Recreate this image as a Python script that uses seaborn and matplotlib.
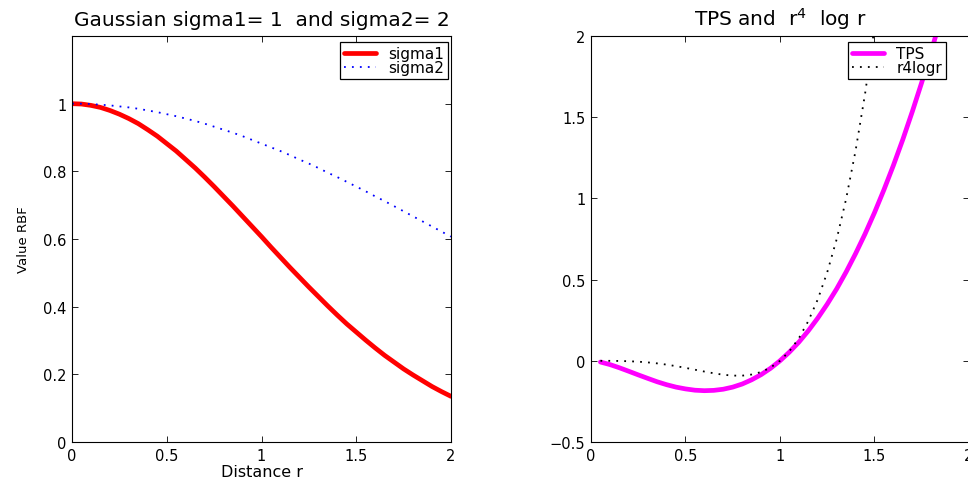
import pandas as pd
import seaborn as sns
import matplotlib
matplotlib.use("Agg")
import matplotlib.pyplot as plt

# values
r_gauss = [0.0, 0.05, 0.1, 0.15, 0.2, 0.25, 0.3, 0.35, 0.4, 0.45, 0.5,
           0.55, 0.6, 0.65, 0.7, 0.75, 0.8, 0.85, 0.9, 0.95, 1.0,
           1.05, 1.1, 1.15, 1.2, 1.25, 1.3, 1.35, 1.4, 1.45, 1.5,
           1.55, 1.6, 1.65, 1.7, 1.75, 1.8, 1.85, 1.9, 1.95, 2.0]
sigma1 = [1.0, 0.999, 0.995, 0.989, 0.980, 0.969, 0.956, 0.941, 0.923, 0.904, 0.882,
          0.860, 0.835, 0.810, 0.783, 0.755, 0.726, 0.697, 0.667, 0.637, 0.607,
          0.576, 0.546, 0.516, 0.487, 0.458, 0.430, 0.402, 0.375, 0.349, 0.325,
          0.301, 0.278, 0.256, 0.236, 0.216, 0.198, 0.181, 0.164, 0.149, 0.135]
sigma2 = [1.0, 1.0, 0.999, 0.997, 0.995, 0.992, 0.989, 0.985, 0.980, 0.975, 0.969,
          0.963, 0.956, 0.949, 0.941, 0.932, 0.923, 0.914, 0.904, 0.893, 0.882,
          0.871, 0.860, 0.848, 0.835, 0.823, 0.810, 0.796, 0.783, 0.769, 0.755,
          0.741, 0.726, 0.712, 0.697, 0.682, 0.667, 0.652, 0.637, 0.622, 0.607]

r_tps = [0.05, 0.10, 0.15, 0.20, 0.25, 0.30, 0.35, 0.40, 0.45, 0.50,
         0.55, 0.60, 0.65, 0.70, 0.75, 0.80, 0.85, 0.90, 0.95, 1.00,
         1.05, 1.10, 1.15, 1.20, 1.25, 1.30, 1.35, 1.40, 1.45, 1.50,
         1.55, 1.60, 1.65, 1.70, 1.75, 1.80, 1.85, 1.90, 1.95, 2.00]
tps = [-0.0075, -0.023, -0.0427, -0.0644, -0.0866, -0.108, -0.129, -0.147, -0.162, -0.173,
       -0.181, -0.184, -0.182, -0.175, -0.162, -0.143, -0.117, -0.0854, -0.0463, 0.0,
       0.0538, 0.115, 0.185, 0.263, 0.349, 0.443, 0.547, 0.660, 0.781, 0.912,
       1.053, 1.203, 1.363, 1.534, 1.714, 1.904, 2.106, 2.317, 2.539, 2.773]
r4logr = [0.0, -0.0002, -0.001, -0.0026, -0.0054, -0.0097, -0.0158, -0.0235, -0.0328, -0.0433,
          -0.0548, -0.0662, -0.0769, -0.0858, -0.0911, -0.0914, -0.0845, -0.0692, -0.0418, 0.0,
          0.0593, 0.139, 0.245, 0.378, 0.545, 0.749, 0.997, 1.294, 1.642, 2.053,
          2.53, 3.08, 3.711, 4.433, 5.249, 6.169, 7.208, 8.364, 9.655, 11.09]

x_ticks = [0, 0.5, 1, 1.5, 2]
x_labels = ["0", "0.5", "1", "1.5", "2"]
y1_ticks = [0, 0.2, 0.4, 0.6, 0.8, 1]
y1_labels = ["0", "0.2", "0.4", "0.6", "0.8", "1"]
y2_ticks = [-0.5, 0, 0.5, 1, 1.5, 2]
y2_labels = ["\u22120.5", "0", "0.5", "1", "1.5", "2"]

sns.set_style("ticks")
plt.rcParams['font.family'] = ['DejaVu Sans']
plt.rcParams['xtick.direction'] = 'in'
plt.rcParams['ytick.direction'] = 'in'
for key in ('text.color', 'axes.labelcolor', 'xtick.color', 'ytick.color', 'axes.edgecolor'):
    plt.rcParams[key] = 'black'

gauss = pd.DataFrame({"r": r_gauss, "sigma1": sigma1, "sigma2": sigma2})
thin = pd.DataFrame({"r": r_tps, "TPS": tps, "r4logr": r4logr})

fig = plt.figure(figsize=(9.68, 4.81), dpi=100)
ax1 = fig.add_axes([0.0744, 0.079, 0.3915, 0.844])
ax2 = fig.add_axes([0.6105, 0.079, 0.3905, 0.844])

dots = (0, (1, 3.4))

sns.lineplot(data=gauss, x="r", y="sigma1", ax=ax1, color="red", lw=3.4, label="sigma1")
sns.lineplot(data=gauss, x="r", y="sigma2", ax=ax1, color="blue", lw=1.3,
             linestyle=dots, label="sigma2")
ax1.set_xlim(0, 2)
ax1.set_ylim(0, 1.2)
ax1.set_xticks(x_ticks)
ax1.set_xticklabels(x_labels)
ax1.set_yticks(y1_ticks)
ax1.set_yticklabels(y1_labels)
ax1.set_xlabel("Distance r", fontsize=11.5, labelpad=1)
ax1.set_ylabel("Value RBF", fontsize=9.5, labelpad=9)
ax1.set_title("Gaussian sigma1= 1  and sigma2= 2", fontsize=14.5, pad=8)

sns.lineplot(data=thin, x="r", y="TPS", ax=ax2, color="magenta", lw=3.4, label="TPS")
sns.lineplot(data=thin, x="r", y="r4logr", ax=ax2, color="black", lw=1.3,
             linestyle=dots, label="r4logr")
ax2.set_xlim(0, 2)
ax2.set_ylim(-0.5, 2)
ax2.set_xticks(x_ticks)
ax2.set_xticklabels(x_labels)
ax2.set_yticks(y2_ticks)
ax2.set_yticklabels(y2_labels)
ax2.set_xlabel("")
ax2.set_ylabel("")
ax2.set_title("TPS and  r$^{4}$  log r", fontsize=14.5, pad=8)

for ax, anchor in ((ax1, (0.992, 0.985)), (ax2, (0.939, 0.985))):
    ax.tick_params(top=True, right=True, labelsize=10.5, length=4, width=0.6, pad=4,
                   colors="black")
    for s in ax.spines.values():
        s.set_linewidth(0.8)
        s.set_color("black")
    leg = ax.legend(loc="upper right", bbox_to_anchor=anchor, borderaxespad=0,
                    fontsize=11, frameon=True, fancybox=False,
                    edgecolor="black", framealpha=1, handlelength=2.1,
                    borderpad=0.25, labelspacing=-0.05, handletextpad=0.8)
    leg.get_frame().set_linewidth(0.9)

fig.savefig("out.png", dpi=100)
